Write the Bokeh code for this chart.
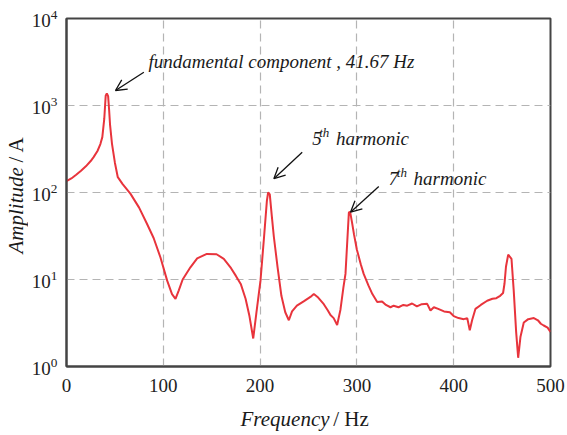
import math
from bokeh.plotting import figure
from bokeh.layouts import row, column
from bokeh.models import Label, Arrow, OpenHead, Range1d, FixedTicker
from bokeh.embed import file_html
from bokeh.resources import INLINE

freq = [0, 5, 10, 15, 20, 25, 28, 32, 35, 37, 39, 40.5, 41.67, 43, 44, 45, 47, 50, 53, 58,
        66, 75, 83, 90, 97, 104, 109, 112.6, 116, 120, 128, 135, 145, 155, 162.5, 170, 175,
        180, 185, 189, 192.9, 196, 200.4, 204, 207, 208.3, 210, 212, 214.2, 218, 222, 226,
        229.7, 233, 238, 245, 252, 255.5, 260, 265.8, 270, 272.7, 276, 279.6, 283, 286, 288.2,
        291.7, 293, 295, 297, 300, 304, 307, 312, 316, 321, 326, 330, 334.7, 338, 343, 348,
        352, 357, 362, 367, 372.6, 376, 379.5, 384, 390, 396, 400, 405, 410.4, 414, 416.6,
        419, 422.5, 428, 434.6, 440, 444, 448, 451, 452.5, 454, 456.3, 459.7, 462, 464.5,
        466.6, 469, 472.4, 477, 482.8, 487, 490, 493, 497, 500]
amp = [135, 145, 160, 178, 200, 230, 255, 300, 360, 433, 700, 1300, 1380, 1280, 900, 600, 363,
       220, 150, 125, 97, 67, 44, 30, 18, 9.7, 6.8, 6.0, 7.5, 10, 13.8, 17.5, 19.7, 19.5, 17.3,
       13.5, 11, 8.9, 6, 3.8, 2.1, 4, 9.7, 30, 80, 100, 95, 55, 31, 14, 6.5, 4.2, 3.4, 4.3, 5.0,
       5.6, 6.3, 6.8, 6.2, 5.2, 4.4, 3.9, 3.6, 3.0, 4.5, 8, 11.6, 59, 60, 45, 33, 22, 15, 11.6,
       8.5, 6.8, 5.5, 5.6, 5.1, 4.8, 5.0, 4.8, 5.1, 5.0, 5.3, 4.9, 5.2, 5.25, 4.4, 4.8, 4.6,
       4.3, 4.2, 3.8, 3.6, 3.5, 3.6, 2.6, 3.4, 4.6, 5.1, 5.7, 6.0, 6.1, 6.5, 7, 9, 14, 19.3,
       17.3, 7.5, 2.5, 1.26, 2.2, 3.2, 3.5, 3.6, 3.4, 3.1, 2.96, 2.8, 2.5]

x_ticks = [0, 100, 200, 300, 400, 500]
y_ticks = [1, 10, 100, 1000, 10000]

SERIF = "Liberation Serif"
INK = "#1a1a1a"

YW = 28          # width of the y-title strip
PW, PH = 567 - YW, 398
XH = 435 - PH    # height of the x-title strip

p = figure(width=PW, height=PH, y_axis_type="log", output_backend="svg",
           toolbar_location=None, x_range=Range1d(0, 500), y_range=Range1d(1, 10000),
           min_border_left=66 - YW, min_border_right=17, min_border_top=18, min_border_bottom=32)
p.background_fill_color = "white"
p.border_fill_color = "white"
p.outline_line_color = "#444444"
p.outline_line_width = 2

for ax in (p.xaxis[0], p.yaxis[0]):
    ax.axis_line_color = "#444444"
    ax.axis_line_width = 2
    ax.major_tick_line_color = None
    ax.minor_tick_line_color = None
    ax.major_label_text_font = SERIF
    ax.major_label_text_font_size = "19px"
    ax.major_label_text_color = "#222222"
p.xaxis.ticker = FixedTicker(ticks=x_ticks)
p.yaxis.ticker = FixedTicker(ticks=y_ticks)
p.xaxis.major_label_standoff = 6
p.yaxis.major_label_standoff = 3

p.xgrid.ticker = FixedTicker(ticks=x_ticks[1:-1])
p.ygrid.ticker = FixedTicker(ticks=y_ticks[1:-1])
for g in (p.xgrid, p.ygrid):
    g.grid_line_color = "#b4b4b4"
    g.grid_line_dash = "8 5"
    g.grid_line_width = 1.2

p.line(freq, amp, line_color="#e8343c", line_width=2)


def lab(fig, x, y, text, size="19px", style="italic", align="left", angle=0):
    fig.add_layout(Label(x=x, y=y, text=text, text_font=SERIF, text_font_size=size,
                         text_font_style=style, text_align=align, text_baseline="middle",
                         text_color=INK, angle=angle))


# annotations
lab(p, 84.7, 3205, "fundamental component , 41.67 Hz")
lab(p, 253.8, 418, "5")
lab(p, 261.0, 495, "th", size="13px")
lab(p, 278.5, 418, "harmonic")
lab(p, 333.0, 145, "7")
lab(p, 341.2, 172, "th", size="13px")
lab(p, 358.5, 145, "harmonic")


def arr(x0, y0, x1, y1):
    p.add_layout(Arrow(x_start=x0, y_start=y0, x_end=x1, y_end=y1, line_color="#111111",
                       line_width=1.3,
                       end=OpenHead(size=11, line_color="#111111", line_width=1.3)))


arr(79.9, 2415, 50.6, 1487)
arr(243.5, 290, 214.2, 144)
arr(322.6, 117, 293.4, 59.4)


def strip(w, h, xr):
    f = figure(width=w, height=h, output_backend="svg", toolbar_location=None,
               x_range=xr, y_range=Range1d(h, 0),
               x_axis_location=None, y_axis_location=None,
               min_border=0, min_border_left=0, min_border_right=0,
               min_border_top=0, min_border_bottom=0)
    f.outline_line_color = None
    f.grid.visible = False
    f.background_fill_color = "white"
    f.border_fill_color = "white"
    return f


# x-axis title strip (below the plot; its frame is aligned with the plot frame,
# so it shares the frequency range)
xs = strip(PW, XH, Range1d(0, 500))
lab(xs, 179.8, 20, "Frequency", size="21px")
lab(xs, 275.5, 20, "/ Hz", size="21px", style="normal")

# y-axis title strip (left of the plot)
ys = strip(YW, 435, Range1d(0, YW))
lab(ys, 15.5, 253, "Amplitude", size="21px", angle=math.pi / 2)
lab(ys, 15.5, 162, "/ A", size="21px", style="normal", angle=math.pi / 2)

layout = row(ys, column(p, xs))
open("out.html", "w").write(file_html(layout, INLINE))
